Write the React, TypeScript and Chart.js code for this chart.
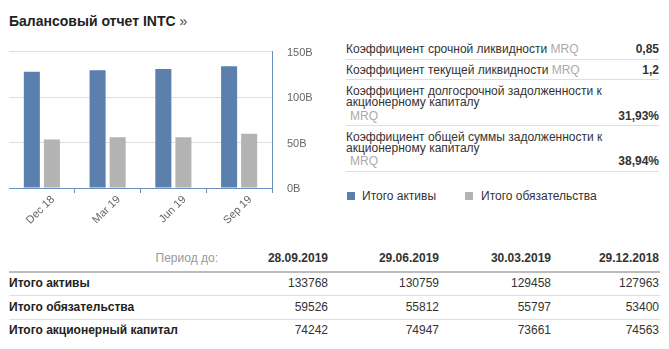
import React, { useEffect, useRef } from "react";
import { Chart, registerables } from "chart.js";

Chart.register(...registerables);

const categories = ["Dec 18", "Mar 19", "Jun 19", "Sep 19"];
const totalAssets = [127963, 129458, 130759, 133768];
const totalLiabilities = [53400, 55797, 55812, 59526];
const totalEquity = [74563, 73661, 74947, 74242];
const periods = ["29.12.2018", "30.03.2019", "29.06.2019", "28.09.2019"];
const yTicks = [0, 50000, 100000, 150000];

const seriesNames = ["Итого активы", "Итого обязательства"];
const tableRowNames = ["Итого активы", "Итого обязательства", "Итого акционерный капитал"];

const ratioLines = [
  ["Коэффициент срочной ликвидности"],
  ["Коэффициент текущей ликвидности"],
  ["Коэффициент долгосрочной задолженности к", "акционерному капиталу"],
  ["Коэффициент общей суммы задолженности к", "акционерному капиталу"],
];
const ratioValues = ["0,85", "1,2", "31,93%", "38,94%"];

const BLUE = "#5b80ad";
const GRAY = "#b3b3b3";
const AXIS = "#6a8ebd";
const FONT = "'Liberation Sans', Arial, Helvetica, sans-serif";
const TEXT = "#333";

function T(props: { x: number; cy: number; children: any; style?: any; right?: boolean }) {
  const { x, cy, children, style, right } = props;
  const base: any = {
    position: "absolute",
    top: cy - 7,
    lineHeight: "14px",
    fontSize: 12,
    whiteSpace: "nowrap",
    color: TEXT,
  };
  if (right) base.right = 669 - x;
  else base.left = x;
  return <div style={{ ...base, ...style }}>{children}</div>;
}

function HLine(props: { x1: number; x2: number; y: number; h?: number; color?: string }) {
  return (
    <div
      style={{
        position: "absolute",
        left: props.x1,
        top: props.y,
        width: props.x2 - props.x1,
        height: props.h || 1,
        background: props.color || "#dedede",
      }}
    />
  );
}

export default function App() {
  const ref = useRef<HTMLCanvasElement | null>(null);

  useEffect(() => {
    if (!ref.current) return;
    Chart.defaults.font.family = FONT;
    const chart = new Chart(ref.current, {
      type: "bar",
      data: {
        labels: categories,
        datasets: [
          {
            label: seriesNames[0],
            data: totalAssets,
            backgroundColor: BLUE,
            categoryPercentage: 0.61,
            barPercentage: 0.8,
          },
          {
            label: seriesNames[1],
            data: totalLiabilities,
            backgroundColor: GRAY,
            categoryPercentage: 0.61,
            barPercentage: 0.8,
          },
        ],
      },
      options: {
        responsive: false,
        animation: false,
        layout: { padding: { left: 9, top: 16, right: 0, bottom: 0 } },
        plugins: { legend: { display: false }, tooltip: { enabled: false } },
        scales: {
          x: {
            grid: {
              offset: true,
              drawOnChartArea: false,
              tickLength: 5,
              color: (ctx: any) => (ctx.index === 0 ? "rgba(0,0,0,0)" : AXIS),
            },
            border: { color: AXIS },
            ticks: {
              minRotation: 45,
              maxRotation: 45,
              font: { size: 11 },
              color: "#666",
              padding: 0,
              labelOffset: 11,
            },
            afterFit: (s: any) => {
              s.height = 52;
            },
          },
          y: {
            position: "right",
            min: 0,
            max: 150000,
            afterBuildTicks: (s: any) => {
              s.ticks = yTicks.map((v) => ({ value: v }));
            },
            ticks: {
              callback: (v: any) => Number(v) / 1000 + "B",
              font: { size: 11 },
              color: "#666",
              padding: 15,
              labelOffset: 1,
            },
            grid: {
              drawTicks: false,
              color: (ctx: any) => (ctx.tick && ctx.tick.value === 0 ? "rgba(0,0,0,0)" : "#dddddd"),
            },
            border: { color: AXIS },
            afterFit: (s: any) => {
              s.width = 58;
            },
          },
        },
      },
    });
    return () => chart.destroy();
  }, []);

  const tableCols = [328, 439, 551, 659];
  const revPeriods = [...periods].reverse();
  const tableData = [totalAssets, totalLiabilities, totalEquity].map((a) => [...a].reverse());
  const rowCy = [283, 307, 330];

  const ratioTops = [[49], [70], [90.7, 101.7], [136.7, 148.3]];
  const mrqCy = [49, 70, 116, 161];
  const sepY = [59, 79, 125, 171];

  return (
    <div
      style={{
        position: "absolute",
        left: 0,
        top: 0,
        width: 669,
        height: 349,
        background: "#fff",
        fontFamily: FONT,
        overflow: "hidden",
      }}
    >
      <div
        style={{
          position: "absolute",
          left: 9,
          top: 12,
          fontSize: 14,
          lineHeight: "18px",
          fontWeight: "bold",
          color: "#222",
          whiteSpace: "nowrap",
        }}
      >
        Балансовый отчет INTC <span style={{ fontWeight: "normal", color: "#444" }}>»</span>
      </div>

      <canvas
        ref={ref}
        width={330}
        height={210}
        style={{ position: "absolute", left: 0, top: 30, width: 330, height: 210 }}
      />

      {ratioLines.map((lines, i) => (
        <React.Fragment key={i}>
          {lines.map((ln, j) => (
            <T key={j} x={346} cy={ratioTops[i][j]}>
              {ln}
              {lines.length === 1 ? <span style={{ color: "#aaa" }}> MRQ</span> : null}
            </T>
          ))}
          {lines.length > 1 ? (
            <T x={350} cy={mrqCy[i]} style={{ color: "#aaa" }}>
              MRQ
            </T>
          ) : null}
          <T x={659} cy={mrqCy[i]} right style={{ fontWeight: "bold" }}>
            {ratioValues[i]}
          </T>
          <HLine x1={346} x2={659} y={sepY[i]} />
        </React.Fragment>
      ))}

      <div style={{ position: "absolute", left: 347, top: 192, width: 8, height: 8, background: BLUE }} />
      <T x={362} cy={196}>
        {seriesNames[0]}
      </T>
      <div style={{ position: "absolute", left: 465, top: 192, width: 8, height: 8, background: GRAY }} />
      <T x={481} cy={196}>
        {seriesNames[1]}
      </T>

      <T x={218} cy={258} right style={{ color: "#999" }}>
        Период до:
      </T>
      {revPeriods.map((p, i) => (
        <T key={p} x={tableCols[i]} cy={258} right style={{ fontWeight: "bold" }}>
          {p}
        </T>
      ))}
      <HLine x1={9} x2={660} y={271} h={2} color="#bbbbbb" />
      {tableRowNames.map((name, r) => (
        <React.Fragment key={name}>
          <T x={9} cy={rowCy[r]} style={{ fontWeight: "bold", color: "#222" }}>
            {name}
          </T>
          {tableData[r].map((v, i) => (
            <T key={i} x={tableCols[i]} cy={rowCy[r]} right>
              {String(v)}
            </T>
          ))}
          {r < 2 ? <HLine x1={9} x2={660} y={[295, 319][r]} /> : null}
        </React.Fragment>
      ))}
    </div>
  );
}
